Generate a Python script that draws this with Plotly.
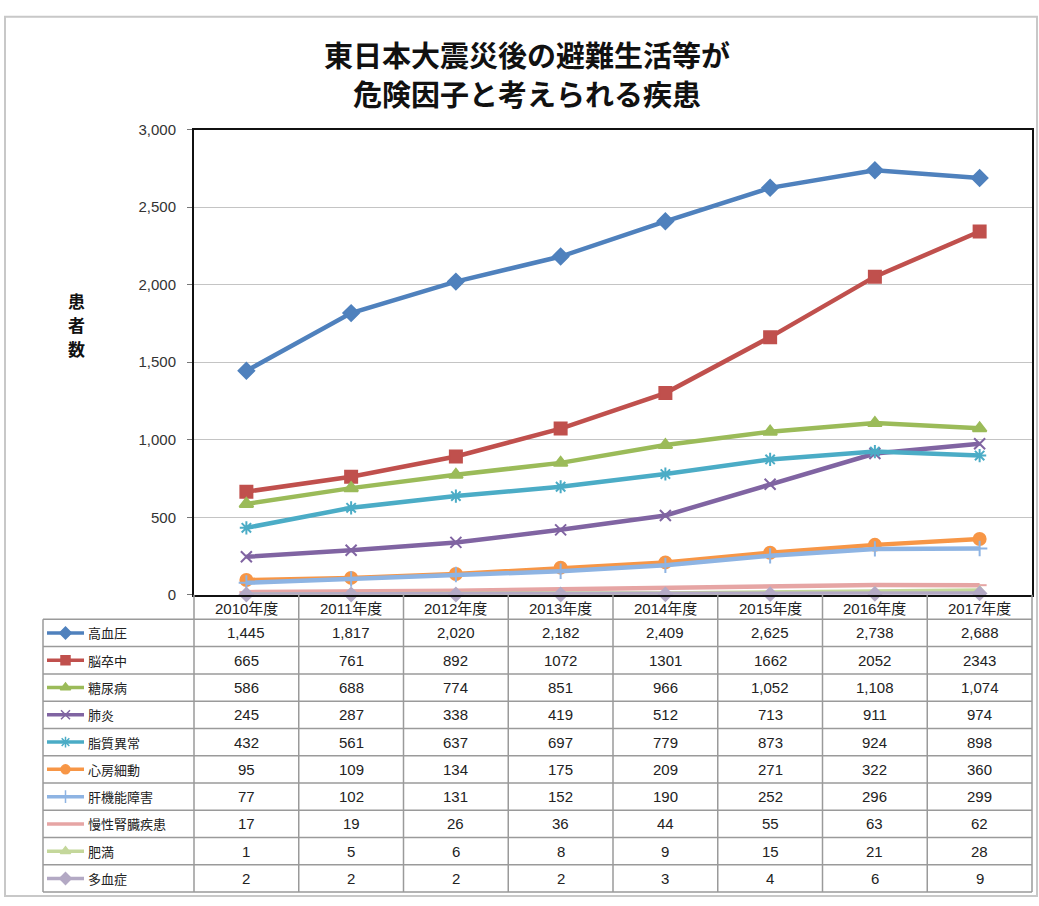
import plotly.graph_objects as go

years = ["2010年度", "2011年度", "2012年度", "2013年度", "2014年度", "2015年度", "2016年度", "2017年度"]

hypertension = [1445, 1817, 2020, 2182, 2409, 2625, 2738, 2688]
stroke = [665, 761, 892, 1072, 1301, 1662, 2052, 2343]
diabetes = [586, 688, 774, 851, 966, 1052, 1108, 1074]
pneumonia = [245, 287, 338, 419, 512, 713, 911, 974]
dyslipidemia = [432, 561, 637, 697, 779, 873, 924, 898]
afib = [95, 109, 134, 175, 209, 271, 322, 360]
liver = [77, 102, 131, 152, 190, 252, 296, 299]
ckd = [17, 19, 26, 36, 44, 55, 63, 62]
obesity = [1, 5, 6, 8, 9, 15, 21, 28]
polycythemia = [2, 2, 2, 2, 3, 4, 6, 9]

names = ["高血圧", "脳卒中", "糖尿病", "肺炎", "脂質異常", "心房細動", "肝機能障害", "慢性腎臓疾患", "肥満", "多血症"]
series = [hypertension, stroke, diabetes, pneumonia, dyslipidemia, afib, liver, ckd, obesity, polycythemia]
colors = ["#4F81BD", "#C0504D", "#9BBB59", "#8064A2", "#4BACC6", "#F79646", "#8EB4E3", "#E6A5A4", "#C4D79B", "#B3A9C4"]
symbols = ["diamond", "square", "triangle-up", "x-thin", "asterisk", "circle", "cross-thin", "line-ew", "triangle-up", "diamond"]
msizes = [12, 12, 12, 11, 11, 12, 11, 10, 8, 10]
use_commas = [True, False, True, True, True, True, True, True, True, True]

W, H = 1039, 906
def px(x): return x / W
def py(y): return 1 - y / H

X0, X1, Y0, Y1 = 194, 1032, 123, 597
col_w = (X1 - X0) / len(years)
HEAD_B = 622
TAB_B = 900
row_h = (TAB_B - HEAD_B) / len(names)

fig = go.Figure()
for nm, vals, c, s, ms in zip(names, series, colors, symbols, msizes):
    fig.add_trace(go.Scatter(
        x=years, y=vals, name=nm, mode="lines+markers",
        line=dict(color=c, width=4.5),
        marker=dict(symbol=s, size=ms, color=c, line=dict(color=c, width=2)),
        showlegend=False, cliponaxis=False,
    ))

shapes = []
annotations = []
# outer border
shapes.append(dict(type="rect", xref="paper", yref="paper", x0=px(5), x1=px(1037), y0=py(8), y1=py(904),
                   line=dict(color="#c8c8c8", width=2)))
gray = "#9a9a9a"
# table horizontal lines
for i in range(len(names) + 1):
    y = HEAD_B + i * row_h
    shapes.append(dict(type="line", xref="paper", yref="paper", x0=px(43), x1=px(X1), y0=py(y), y1=py(y),
                       line=dict(color=gray, width=1.5)))
# table vertical lines
shapes.append(dict(type="line", xref="paper", yref="paper", x0=px(43), x1=px(43), y0=py(HEAD_B), y1=py(TAB_B),
                   line=dict(color=gray, width=1.5)))
for k in range(len(years) + 1):
    x = X0 + k * col_w
    shapes.append(dict(type="line", xref="paper", yref="paper", x0=px(x), x1=px(x), y0=py(Y1), y1=py(TAB_B),
                       line=dict(color=gray, width=1.5)))

tfont = dict(family="Liberation Sans, Noto Sans CJK JP", size=15, color="#222")
for k, yr in enumerate(years):
    annotations.append(dict(xref="paper", yref="paper", x=px(X0 + (k + 0.5) * col_w), y=py((Y1 + HEAD_B) / 2 + 1),
                            text=yr, showarrow=False, font=dict(family="Liberation Sans, Noto Sans CJK JP", size=15, color="#222"),
                            xanchor="center", yanchor="middle"))

for i, (nm, vals, c, s, comma) in enumerate(zip(names, series, colors, symbols, use_commas)):
    yc = HEAD_B + (i + 0.5) * row_h
    shapes.append(dict(type="line", xref="paper", yref="paper", x0=px(47), x1=px(84), y0=py(yc), y1=py(yc),
                       line=dict(color=c, width=3.5)))
    annotations.append(dict(xref="paper", yref="paper", x=px(86), y=py(yc), text=nm, showarrow=False,
                            font=dict(family="Noto Sans CJK JP", size=13, color="#222"), xanchor="left", yanchor="middle"))
    for k, v in enumerate(vals):
        txt = f"{v:,}" if comma else str(v)
        annotations.append(dict(xref="paper", yref="paper", x=px(X0 + (k + 0.5) * col_w), y=py(yc), text=txt,
                                showarrow=False, font=tfont, xanchor="center", yanchor="middle"))
    fig.add_trace(go.Scatter(x=[65.5], y=[yc], xaxis="x2", yaxis="y2", mode="markers",
                             marker=dict(symbol=s, size=9, color=c, line=dict(color=c, width=1.5)),
                             showlegend=False, hoverinfo="skip"))

# title
annotations.append(dict(xref="paper", yref="paper", x=px(527), y=py(46), text="<b>東日本大震災後の避難生活等が</b>",
                        showarrow=False, font=dict(family="Noto Sans CJK JP", size=29, color="#111"), xanchor="center", yanchor="middle"))
annotations.append(dict(xref="paper", yref="paper", x=px(527), y=py(86), text="<b>危険因子と考えられる疾患</b>",
                        showarrow=False, font=dict(family="Noto Sans CJK JP", size=29, color="#111"), xanchor="center", yanchor="middle"))
# y axis title (stacked characters)
for j, ch in enumerate("患者数"):
    annotations.append(dict(xref="paper", yref="paper", x=px(76), y=py(297 + j * 24), text=f"<b>{ch}</b>",
                            showarrow=False, font=dict(family="Noto Sans CJK JP", size=17, color="#111"),
                            xanchor="center", yanchor="middle", height=20, valign="middle"))

fig.update_layout(
    width=W, height=H, margin=dict(l=0, r=0, t=0, b=0),
    paper_bgcolor="white", plot_bgcolor="rgba(0,0,0,0)",
    xaxis=dict(domain=[px(X0), px(X1)], showticklabels=False, showgrid=False, zeroline=False,
               showline=True, linecolor="#111", linewidth=2, mirror=True, range=[-0.5, 7.5]),
    yaxis=dict(domain=[py(Y1), py(Y0)], range=[0, 3000], dtick=500, tickformat=",d",
               showgrid=True, gridcolor="#c4c4c4", gridwidth=1, zeroline=False,
               showline=True, linecolor="#111", linewidth=2, mirror=True,
               ticks="outside", ticklen=5, tickcolor="#777", ticklabelstandoff=8,
               tickfont=dict(family="Liberation Sans", size=15, color="#333")),
    xaxis2=dict(domain=[0, 1], range=[0, W], visible=False, anchor="y2"),
    yaxis2=dict(domain=[0, 1], range=[H, 0], visible=False, anchor="x2"),
    shapes=shapes, annotations=annotations,
)

fig.write_html("out.html")
